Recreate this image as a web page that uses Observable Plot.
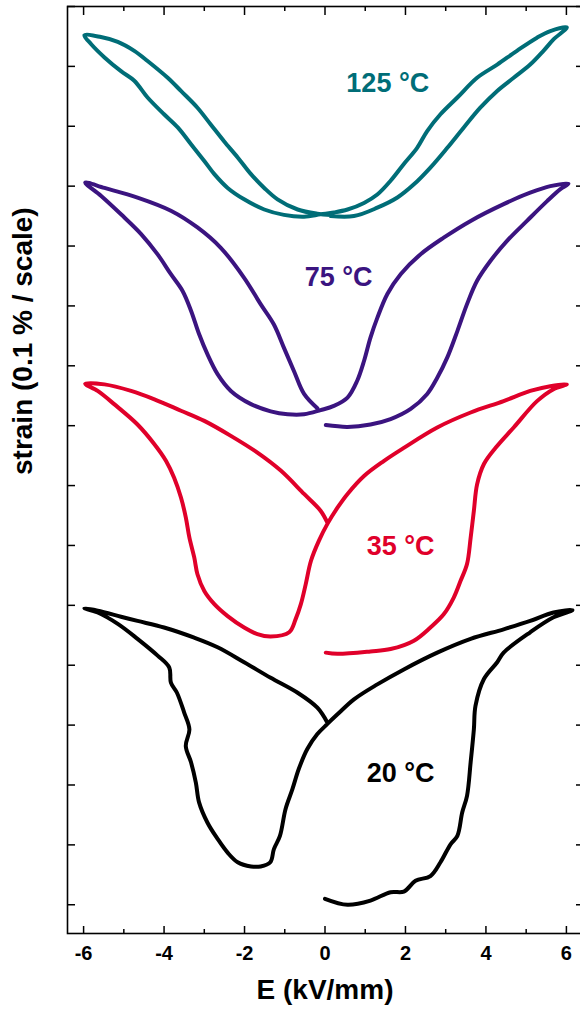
<!DOCTYPE html>
<html><head><meta charset="utf-8">
<script src="https://cdn.jsdelivr.net/npm/d3@7"></script>
<script src="https://cdn.jsdelivr.net/npm/@observablehq/plot@0.6"></script>
<style>html,body{margin:0;padding:0;background:#fff} svg{display:block}</style>
</head><body><div id="chart"></div>
<script>
// Temperatures (series) and colours
const temps = ["20 °C", "35 °C", "75 °C", "125 °C"];
const colors = ["#000000", "#e0002a", "#3b1480", "#006d77"];

// E (kV/mm) and strain (scale units) for each loop: virgin 0→6, 6→0, 0→-6, -6→0
const E20 = [0.0,0.56,1.13,1.63,1.96,2.25,2.62,2.87,3.12,3.29,3.41,3.53,3.62,3.70,3.74,3.95,4.28,4.44,5.10,5.68,6.15,
  5.68,5.10,4.44,3.62,2.79,1.96,1.30,0.72,0.31,0.06,
  -0.19,-0.44,-0.65,-0.81,-0.98,-1.12,-1.27,-1.36,-1.60,-1.84,-2.17,-2.42,-2.67,-2.92,-3.13,-3.21,-3.33,-3.46,-3.37,-3.50,-3.68,-3.83,-3.87,-4.16,-4.66,-5.15,-5.65,-5.98,
  -5.65,-5.07,-4.66,-4.00,-3.25,-2.67,-2.01,-1.35,-0.68,-0.19,0.06];
const S20 = [0.10,0.00,0.07,0.21,0.22,0.40,0.48,0.71,1.01,1.15,1.54,1.82,2.38,2.93,3.32,3.77,4.05,4.21,4.55,4.80,4.92,
  4.88,4.74,4.60,4.44,4.21,3.93,3.68,3.43,3.18,3.02,
  2.85,2.60,2.27,1.93,1.60,1.15,0.93,0.71,0.64,0.64,0.71,0.87,1.10,1.37,1.71,2.04,2.38,2.65,2.93,3.21,3.54,3.71,3.96,4.16,4.44,4.69,4.88,4.95,
  4.91,4.81,4.74,4.63,4.46,4.30,4.05,3.79,3.54,3.29,3.04];

const E35 = [0.02,0.31,1.13,1.63,2.21,2.62,2.95,3.20,3.37,3.53,3.62,3.70,3.78,3.95,4.24,4.69,5.27,5.68,6.01,
  5.60,5.10,4.44,3.62,2.79,1.96,1.46,0.97,0.56,0.31,0.06,
  -0.15,-0.35,-0.48,-0.60,-0.73,-0.89,-1.35,-1.68,-2.01,-2.42,-2.75,-3.00,-3.17,-3.25,-3.37,-3.46,-3.58,-3.75,-3.95,-4.24,-4.66,-5.24,-5.65,-5.96,
  -5.48,-4.82,-4.24,-3.58,-3.00,-2.34,-1.68,-1.10,-0.52,-0.11,0.06];
const S35 = [4.21,4.19,4.23,4.27,4.41,4.63,4.85,5.13,5.41,5.69,6.13,6.58,7.02,7.36,7.63,7.97,8.41,8.61,8.69,
  8.66,8.58,8.41,8.22,7.97,7.63,7.41,7.16,6.86,6.63,6.36,
  6.08,5.74,5.35,5.02,4.77,4.55,4.48,4.52,4.63,4.82,5.02,5.24,5.52,5.80,6.13,6.47,6.80,7.13,7.41,7.69,8.02,8.36,8.58,8.70,
  8.69,8.58,8.44,8.25,8.08,7.83,7.55,7.25,6.86,6.58,6.38];

const E75 = [0.02,0.56,1.13,1.63,2.13,2.54,2.79,3.04,3.29,3.53,3.78,4.11,4.53,5.02,5.52,5.85,6.05,
  5.60,5.10,4.44,3.62,2.95,2.37,1.88,1.55,1.30,1.13,0.97,0.80,0.56,0.22,-0.11,
  -0.52,-0.93,-1.35,-1.84,-2.34,-2.67,-2.92,-3.13,-3.33,-3.54,-3.83,-4.16,-4.57,-5.07,-5.57,-5.96,
  -5.48,-4.66,-3.83,-3.17,-2.59,-2.01,-1.60,-1.27,-1.02,-0.77,-0.52,-0.19];
const S75 = [8.01,7.98,8.02,8.11,8.28,8.53,8.80,9.14,9.58,10.03,10.42,10.75,11.09,11.42,11.75,11.95,12.04,
  12.00,11.89,11.70,11.42,11.14,10.86,10.53,10.20,9.80,9.47,9.08,8.75,8.47,8.33,8.26,
  8.19,8.19,8.24,8.36,8.58,8.86,9.19,9.53,9.92,10.25,10.53,10.86,11.20,11.53,11.84,12.06,
  11.97,11.81,11.59,11.31,10.97,10.47,10.03,9.69,9.30,8.91,8.53,8.29];

const E125 = [0.14,0.72,1.30,1.80,2.21,2.62,3.04,3.45,3.86,4.28,4.69,5.10,5.43,5.68,6.01,
  5.60,5.27,4.77,4.28,3.78,3.29,2.87,2.54,2.29,1.96,1.63,1.30,0.97,0.56,0.22,-0.11,
  -0.52,-1.02,-1.51,-2.01,-2.42,-2.75,-3.00,-3.33,-3.66,-4.00,-4.41,-4.74,-5.07,-5.48,-5.81,-5.98,
  -5.57,-5.15,-4.74,-4.41,-3.91,-3.58,-3.17,-2.84,-2.51,-2.17,-1.84,-1.51,-1.18,-0.68,-0.19,0.14];
const S125 = [11.50,11.50,11.64,11.81,12.03,12.31,12.64,12.98,13.31,13.59,13.81,14.03,14.26,14.45,14.65,
  14.59,14.48,14.26,14.03,13.81,13.48,13.20,12.92,12.64,12.37,12.09,11.86,11.72,11.61,11.56,11.53,
  11.49,11.52,11.61,11.78,11.97,12.20,12.42,12.70,12.98,13.20,13.48,13.76,13.92,14.15,14.37,14.52,
  14.49,14.41,14.26,14.09,13.81,13.59,13.31,13.03,12.75,12.48,12.20,11.97,11.78,11.61,11.54,11.52];

// Label anchor values (data units)
const labelE = [1.88, 1.88, 0.34, 1.56];
const labelS = [2.19, 5.99, 10.47, 13.72];

// Ticks
const xMajor = [-6, -4, -2, 0, 2, 4, 6];
const xMinor = [-5, -3, -1, 1, 3, 5];
const yTicks = [0,1,2,3,4,5,6,7,8,9,10,11,12,13,14,15];

const xTitle = "E (kV/mm)";
const yTitle = "strain (0.1 % / scale)";

const series = [[E20, S20], [E35, S35], [E75, S75], [E125, S125]];
const rows = series.flatMap(([E, S], k) => E.map((e, i) => ({t: temps[k], E: e, S: S[i]})));
const labels = temps.map((t, k) => ({t, E: labelE[k], S: labelS[k]}));

const font = "'Liberation Sans', Arial, Helvetica, sans-serif";
const blank = () => "";

const chart = Plot.plot({
  width: 580, height: 1010,
  marginLeft: 67, marginRight: -2, marginTop: 6, marginBottom: 77,
  style: {fontFamily: font, background: "#fff", overflow: "visible"},
  x: {domain: [-6.4, 6.4], label: null},
  y: {domain: [-0.48, 15], label: null},
  color: {domain: temps, range: colors},
  marks: [
    Plot.line(rows, {x: "E", y: "S", z: "t", stroke: "t", strokeWidth: 4, strokeLinejoin: "round", strokeLinecap: "round", curve: "catmull-rom"}),
    Plot.frame({stroke: "#000", strokeWidth: 1.6}),
    Plot.axisX(xMajor, {anchor: "bottom", tickSize: -7, strokeWidth: 1.5, tickFormat: blank, label: null}),
    Plot.axisX(xMinor, {anchor: "bottom", tickSize: -4, strokeWidth: 1.5, tickFormat: blank, label: null}),
    Plot.axisX(xMajor, {anchor: "top", tickSize: -8, strokeWidth: 1.5, tickFormat: blank, label: null}),
    Plot.axisX(xMinor, {anchor: "top", tickSize: -4, strokeWidth: 1.5, tickFormat: blank, label: null}),
    Plot.axisX(xMajor, {anchor: "bottom", tickSize: 0, tickPadding: 12, fontSize: 20, fontWeight: "bold", fill: "#000", tickFormat: d => String(d), label: null}),
    Plot.axisY(yTicks, {anchor: "left", tickSize: -8, strokeWidth: 1.5, tickFormat: blank, label: null}),
    Plot.axisY(yTicks, {anchor: "right", tickSize: -7, strokeWidth: 1.5, tickFormat: blank, label: null}),
    Plot.text(labels, {x: "E", y: "S", text: "t", fill: "t", fontSize: 27, fontWeight: "bold"}),
    Plot.text([xTitle], {frameAnchor: "bottom", dy: 65, fontSize: 28, fontWeight: "bold", fill: "#000"}),
    Plot.text([yTitle], {frameAnchor: "left", rotate: -90, dx: -44, dy: 5, fontSize: 28, fontWeight: "bold", fill: "#000"})
  ]
});
document.getElementById("chart").appendChild(chart);
</script>
</body></html>
